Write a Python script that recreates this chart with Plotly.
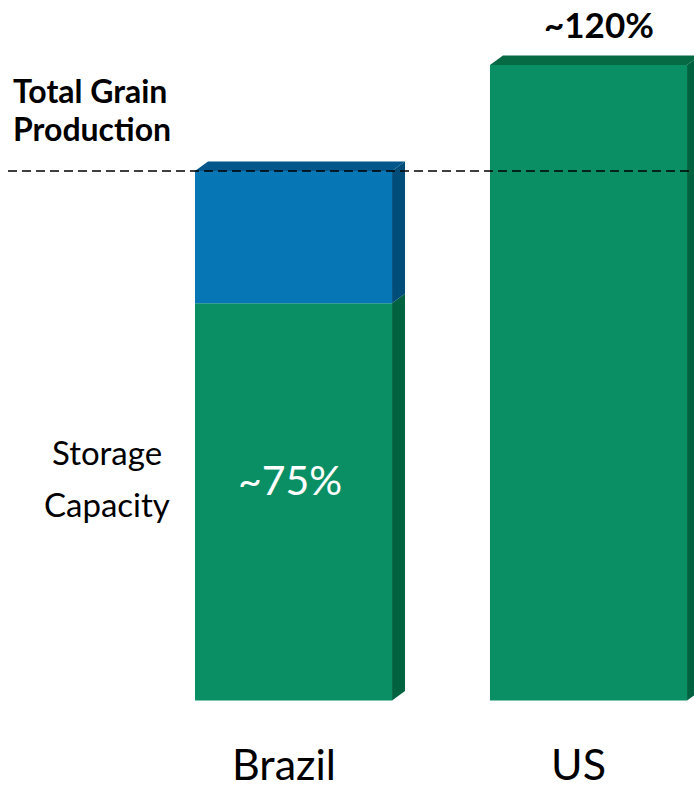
import plotly.graph_objects as go

# Data
countries = ["Brazil", "US"]
storage_capacity = [75, 120]      # storage capacity, % of total grain production
total_production = [100, 100]     # total grain production reference (%)
shortfall = [25, 0]               # Brazil gap between capacity and production

# Colours
GREEN = "#0A8F65"
GREEN_SIDE = "#00623F"
GREEN_TOP = "#066B45"
BLUE = "#0677B4"
BLUE_SIDE = "#014D7A"
BLUE_TOP = "#03578A"

W, H = 694, 789
xpos = [0, 1]
bar_w = 0.668
dx, dy = 0.044, 1.8   # depth of the 3D extrusion in axis units
XR = [-0.995, 1.3576]
YR = [-16.71, 132.29]


def px_x(p):
    return XR[0] + p / W * (XR[1] - XR[0])


def px_y(p):
    return YR[1] - p / H * (YR[1] - YR[0])


fig = go.Figure()

# Front faces
fig.add_trace(go.Bar(x=xpos, y=storage_capacity, width=bar_w, marker=dict(color=GREEN, line=dict(width=0)),
                     showlegend=False, hoverinfo="skip"))
fig.add_trace(go.Bar(x=xpos, y=shortfall, base=storage_capacity, width=bar_w,
                     marker=dict(color=BLUE, line=dict(width=0)), showlegend=False, hoverinfo="skip"))


def poly(xs, ys, color):
    fig.add_trace(go.Scatter(x=xs + [xs[0]], y=ys + [ys[0]], mode="lines", fill="toself",
                             fillcolor=color, line=dict(width=0, color=color),
                             showlegend=False, hoverinfo="skip"))


# Side and top faces
for x0, cap, gap in zip(xpos, storage_capacity, shortfall):
    xl, xr = x0 - bar_w / 2, x0 + bar_w / 2
    poly([xr, xr + dx, xr + dx, xr], [0, dy, cap + dy, cap], GREEN_SIDE)
    top = cap
    top_col = GREEN_TOP
    if gap > 0:
        poly([xr, xr + dx, xr + dx, xr], [cap, cap + dy, cap + gap + dy, cap + gap], BLUE_SIDE)
        top = cap + gap
        top_col = BLUE_TOP
    poly([xl, xl + dx, xr + dx, xr], [top, top + dy, top + dy, top], top_col)

# Total production reference line
fig.add_shape(type="line", xref="x", yref="y", x0=px_x(8), x1=XR[1], y0=total_production[0], y1=total_production[0],
              line=dict(color="black", width=1.6, dash="9px,5px"), layer="above")

FONT = "Lato, Carlito, sans-serif"


def label(text, px, py, size, color="black", xanchor="center"):
    fig.add_annotation(x=px_x(px), y=px_y(py), xref="x", yref="y", xanchor=xanchor, yanchor="middle",
                       text=text, showarrow=False, font=dict(family=FONT, size=size, color=color))


label("<b>Total Grain</b>", 11, 90, 32, xanchor="left")
label("<b>Production</b>", 11, 128, 32, xanchor="left")
label("Storage", 107, 452, 33)
label("Capacity", 107, 504, 33)

fig.add_annotation(x=px_x(290), y=px_y(479), xref="x", yref="y", xanchor="center", yanchor="middle",
                   text=f"~{storage_capacity[0]}%", showarrow=False,
                   font=dict(family=FONT, size=41, color="white"))
fig.add_annotation(x=px_x(599), y=px_y(24), xref="x", yref="y", xanchor="center", yanchor="middle",
                   text=f"<b>~{storage_capacity[1]}%</b>", showarrow=False,
                   font=dict(family=FONT, size=35, color="black"))
for x0, name in zip(xpos, countries):
    fig.add_annotation(x=x0 - 0.033, y=px_y(763), xref="x", yref="y", xanchor="center", yanchor="middle",
                       text=name, showarrow=False, font=dict(family=FONT, size=43, color="black"))

fig.update_layout(
    width=W, height=H, margin=dict(l=0, r=0, t=0, b=0),
    paper_bgcolor="white", plot_bgcolor="white", barmode="overlay",
    xaxis=dict(range=XR, visible=False, fixedrange=True),
    yaxis=dict(range=YR, visible=False, fixedrange=True),
)

fig.write_html("out.html")
